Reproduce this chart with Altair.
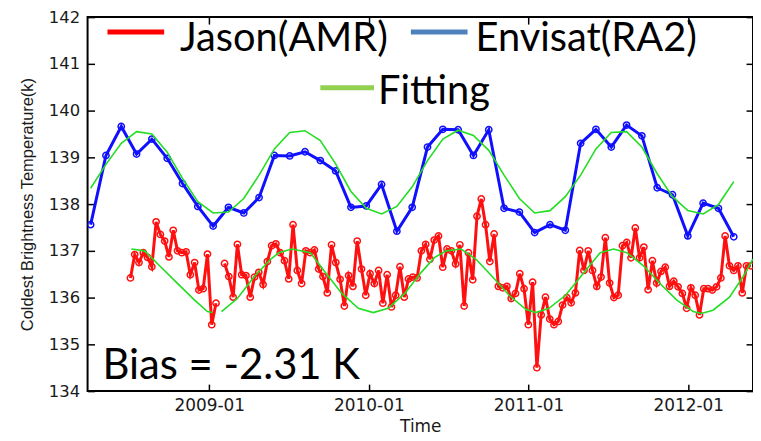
import altair as alt
import pandas as pd

# ---------------- data ----------------
# Envisat (RA2): one value per 35-day cycle
envisat_dates = [
    "2008-04-05", "2008-05-10", "2008-06-14", "2008-07-19", "2008-08-23", "2008-09-27",
    "2008-11-01", "2008-12-06", "2009-01-10", "2009-02-14", "2009-03-21", "2009-04-25",
    "2009-05-30", "2009-07-04", "2009-08-08", "2009-09-12", "2009-10-17", "2009-11-21",
    "2009-12-26", "2010-01-30", "2010-03-06", "2010-04-10", "2010-05-15", "2010-06-19",
    "2010-07-24", "2010-08-28", "2010-10-02", "2010-11-06", "2010-12-11", "2011-01-15",
    "2011-02-19", "2011-03-26", "2011-04-30", "2011-06-04", "2011-07-09", "2011-08-13",
    "2011-09-17", "2011-10-22", "2011-11-26", "2011-12-31", "2012-02-04", "2012-03-10",
    "2012-04-14",
]
envisat_values = [
    137.56, 139.04, 139.66, 139.07, 139.39, 138.98, 138.44, 137.95, 137.53, 137.93,
    137.81, 138.14, 139.04, 139.03, 139.12, 138.93, 138.71, 137.93, 137.96, 138.42,
    137.42, 137.93, 139.22, 139.60, 139.59, 139.04, 139.59, 137.91, 137.83, 137.39,
    137.56, 137.44, 139.30, 139.60, 139.22, 139.69, 139.46, 138.35, 138.20, 137.32,
    138.02, 137.91, 137.30,
]
envisat_fit = [
    138.34, 138.85, 139.30, 139.55, 139.50, 139.11, 138.55, 138.05, 137.81, 137.83,
    138.12, 138.62, 139.18, 139.53, 139.57, 139.36, 138.86, 138.27, 137.91, 137.79,
    137.95, 138.37, 138.93, 139.39, 139.58, 139.47, 139.15, 138.62, 138.12, 137.81,
    137.86, 138.16, 138.62, 139.18, 139.53, 139.55, 139.22, 138.65, 138.16, 137.86,
    137.79, 137.99, 138.48,
]

# Jason (AMR): one value per ~10-day cycle, None = missing cycle
jason_first = "2008-07-05"
jason_last = "2012-05-23"
jason_values = [
    136.42, 136.92, 136.75, 136.96, 136.86, 136.66, 137.62, 137.35, 137.21, 136.87,
    137.44, 137.00, 136.96, 136.98, 136.49, 136.75, 136.16, 136.19, 136.93, 135.42,
    135.88, None,
    136.73, 136.45, 136.01, 137.14, 136.49, 136.47, 136.01, 136.44, 136.54, 136.28,
    136.77, 137.11, 137.15, 136.96, 136.79,
    136.40, 137.56, 136.58, 136.30, 137.00, 136.96, 137.02, 136.61, 136.45, 136.10,
    137.13, 136.75, 136.39, 135.82, 136.47, 136.24, 137.21, 136.61, 136.05, 136.51,
    136.30, 136.58, 135.88, 136.49, 135.80, 136.05, 136.66, 136.01, 136.40, 136.44,
    136.42, 137.00, 137.14, 136.82, 137.23, 137.32,
    136.65, 137.04, 137.00, 136.72, 137.13, 135.82, 136.96, 136.38, 137.74, 138.11,
    137.56, 136.77, 137.36, 136.24, 136.21, 136.24, 135.98, 136.09, 136.51, 136.19,
    135.42, 136.33, 134.50, 135.63, 136.01, 135.54, 135.42, 135.49, 135.84, 136.00,
    135.89, 136.10, 137.01, 136.58,
    137.00, 136.58, 136.24, 136.44, 137.28, 136.31, 136.00, 136.05, 137.11, 137.18,
    136.85, 137.49, 136.85, 137.08, 136.17, 136.79, 136.31, 136.56, 136.65, 136.24,
    136.35, 136.23, 136.09, 135.77, 136.21, 136.05, 135.63, 136.19, 136.19, 136.16,
    136.23, 136.42, 137.32, 136.68, 136.58, 136.68, 136.10, 136.68, 136.68,
]

# fitted curve for Jason (decimal years), None = gap
jason_fit_years = [
    2008.513, 2008.596, 2008.699, 2008.803, 2008.907, 2008.989, 2009.021, None,
    2009.077, 2009.176, 2009.280, 2009.384, 2009.436, 2009.518, 2009.633, 2009.726,
    2009.830, 2009.933, 2010.027, 2010.120, 2010.224, 2010.327, 2010.411, 2010.483,
    2010.576, 2010.670, 2010.774, 2010.877, 2010.981, 2011.043, 2011.126, 2011.230,
    2011.313, 2011.396, 2011.447, 2011.531, 2011.614, 2011.718, 2011.821, 2011.925,
    2012.029, 2012.080, 2012.153, 2012.256, 2012.340, 2012.402,
]
jason_fit_values = [
    137.04, 137.00, 136.65, 136.30, 135.95, 135.70, 135.68, None,
    135.70, 135.98, 136.44, 136.82, 136.96, 137.04, 136.96, 136.54,
    136.09, 135.77, 135.68, 135.77, 136.09, 136.54, 136.86, 137.00,
    137.04, 136.82, 136.44, 136.05, 135.75, 135.68, 135.77, 136.05,
    136.40, 136.75, 136.96, 137.04, 136.96, 136.68, 136.30, 135.95,
    135.70, 135.66, 135.73, 136.01, 136.44, 136.82,
]

legend_labels = ["Jason(AMR)", "Envisat(RA2)", "Fitting"]
bias_text = "Bias = -2.31 K"
year_ticks = [2009, 2010, 2011, 2012]
y_ticks = [134, 135, 136, 137, 138, 139, 140, 141, 142]

# ---------------- tables ----------------
def fmt(ts):
    return ts.strftime("%Y-%m-%dT%H:%M:%S")

env_df = pd.DataFrame({
    "date": [d + "T00:00:00" for d in envisat_dates],
    "value": envisat_values,
    "fit": envisat_fit,
})

jd = pd.date_range(jason_first, jason_last, periods=len(jason_values))
jas_df = pd.DataFrame({"date": [fmt(t) for t in jd], "value": jason_values})
jas_df["seg"] = jas_df["value"].isna().cumsum()
jas_df = jas_df.dropna().reset_index(drop=True)

base = pd.Timestamp("2009-01-01")
fit_rows = []
seg = 0
for yr, v in zip(jason_fit_years, jason_fit_values):
    if yr is None:
        seg += 1
        continue
    t = base + pd.Timedelta(days=(yr - 2009) * 365.25)
    fit_rows.append({"date": fmt(t), "value": v, "seg": seg})
jfit_df = pd.DataFrame(fit_rows)

# ---------------- scales / axes ----------------
xscale = alt.Scale(domain=[alt.DateTime(year=2008, month=3, date=29),
                           alt.DateTime(year=2012, month=5, date=28)])
yscale = alt.Scale(domain=[134, 142], nice=False, zero=False)
tick_dates = [alt.DateTime(year=y, month=1, date=1) for y in year_ticks]

TS = 7
x_axis = alt.Axis(orient="bottom", values=tick_dates, format="%Y-%m", tickSize=TS,
                  offset=-TS, domain=False, grid=False, tickColor="black", tickWidth=1.5,
                  labelFont="DejaVu Sans", labelFontSize=17, labelColor="#1a1a1a",
                  labelPadding=7, title="Time", titleFont="DejaVu Sans",
                  titleFontSize=17, titleFontWeight="normal", titleColor="#1a1a1a",
                  titlePadding=5)
y_axis = alt.Axis(orient="left", values=y_ticks, tickSize=TS, offset=-TS, domain=False,
                  grid=False, tickColor="black", tickWidth=1.5,
                  labelFont="DejaVu Sans", labelFontSize=16.5, labelColor="#1a1a1a",
                  labelPadding=8, title="Coldest Brightness Temperature(k)",
                  titleFont="Liberation Sans", titleFontSize=16.5,
                  titleFontWeight="normal", titleColor="#1a1a1a", titlePadding=13)
x_axis_top = alt.Axis(orient="top", values=tick_dates, tickSize=TS, offset=-TS,
                      domain=False, grid=False, labels=False, tickColor="black",
                      tickWidth=1.5, title=None)
y_axis_right = alt.Axis(orient="right", values=y_ticks, tickSize=TS, offset=-TS,
                        domain=False, grid=False, labels=False, tickColor="black",
                        tickWidth=1.5, title=None)

def X(axis=None):
    return alt.X("date:T", scale=xscale, axis=axis)

def Y(axis=None):
    return alt.Y("value:Q", scale=yscale, axis=axis)

BLUE = "#1010ff"
RED = "#ff1010"
GREEN = "#22dd22"

env_line = alt.Chart(env_df).mark_line(color=BLUE, strokeWidth=3, clip=True).encode(
    x=X(x_axis), y=Y(y_axis))
env_pts = alt.Chart(env_df).mark_point(shape="circle", filled=False, color=BLUE,
                                       size=40, strokeWidth=1.5, opacity=1,
                                       clip=True).encode(x=X(), y=Y())
env_fit = alt.Chart(env_df).mark_line(color=GREEN, strokeWidth=1.6, clip=True).encode(
    x=X(), y=alt.Y("fit:Q", scale=yscale, axis=None))

jas_line = alt.Chart(jas_df).mark_line(color=RED, strokeWidth=3, clip=True).encode(
    x=X(), y=Y(), detail="seg:N")
jas_pts = alt.Chart(jas_df).mark_point(shape="circle", filled=False, color=RED,
                                       size=40, strokeWidth=1.5, opacity=1,
                                       clip=True).encode(x=X(), y=Y())
jas_fit = alt.Chart(jfit_df).mark_line(color=GREEN, strokeWidth=1.6, clip=True).encode(
    x=X(), y=Y(), detail="seg:N")

frame_axes = alt.Chart(env_df).mark_line(opacity=0).encode(
    x=X(x_axis_top), y=Y(y_axis_right))

# legend and annotation (pixel offsets inside the plot area)
FONT = "Lato"
FS = 40
TOP = 3  # plot area starts 3px lower than the reference to keep "142" on the canvas
leg_red = alt.Chart(env_df.head(1)).mark_rule(color="#ff0000", strokeWidth=5).encode(
    x=alt.value(20), x2=alt.value(77), y=alt.value(18 - TOP))
leg_blue = alt.Chart(env_df.head(1)).mark_rule(color="#4f81bd", strokeWidth=5).encode(
    x=alt.value(325), x2=alt.value(382), y=alt.value(18 - TOP))
leg_green = alt.Chart(env_df.head(1)).mark_rule(color="#92d050", strokeWidth=5).encode(
    x=alt.value(234), x2=alt.value(288), y=alt.value(74 - TOP))

def label(txt, x, y, fs=FS):
    return alt.Chart(env_df.head(1)).mark_text(
        text=txt, align="left", baseline="alphabetic", font=FONT, fontSize=fs,
        color="black").encode(x=alt.value(x), y=alt.value(y))

t1 = label(legend_labels[0], 93, 37 - TOP)
t2 = label(legend_labels[1], 390, 37 - TOP)
t3 = label(legend_labels[2], 292, 90 - TOP)
t4 = label(bias_text, 15, 367 - TOP, 42)

chart = alt.layer(
    env_line, env_pts, jas_line, jas_pts, env_fit, jas_fit, frame_axes,
    leg_red, leg_blue, leg_green, t1, t2, t3, t4,
).resolve_axis(x="independent", y="independent").properties(
    width=669, height=376,
    autosize=alt.AutoSizeParams(type="none"),
    padding={"left": 80, "top": 8, "right": 0, "bottom": 44},
    background="white",
).configure_view(stroke="black", strokeWidth=2)

chart.save("out.html", embed_options={"renderer": "svg", "actions": False})
